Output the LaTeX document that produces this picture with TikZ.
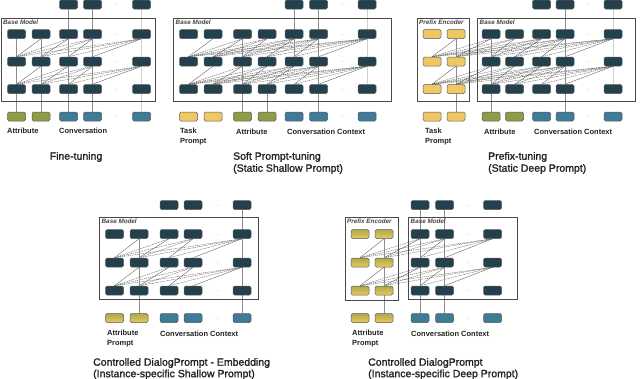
\documentclass[tikz,border=0pt]{standalone}
\usepackage{fontspec}
\setmainfont{Liberation Sans}
\newfontfamily\semib{Liberation Sans}[FakeBold=1.5]
\definecolor{dkcol}{HTML}{23404D}
\definecolor{ylcol}{HTML}{EEC865}
\definecolor{olcol}{HTML}{8E9C48}
\definecolor{blcol}{HTML}{3F7A96}
\definecolor{gtop}{HTML}{ABA948}
\definecolor{gbot}{HTML}{EBC863}
\definecolor{bord}{HTML}{5A5A5A}
\definecolor{frcol}{HTML}{4A4A4A}
\definecolor{lncol}{HTML}{555555}
\definecolor{vcol}{HTML}{8C8C8C}
\definecolor{fvcol}{HTML}{CFCFCF}
\definecolor{txt}{HTML}{222222}
\pgfdeclarelayer{bg}
\pgfsetlayers{bg,main}
\tikzset{
 cell/.style={draw=bord, line width=0.5pt, rounded corners=1.5pt, minimum width=18pt, minimum height=9pt, inner sep=0pt},
 dkc/.style={cell, fill=dkcol},
 ylc/.style={cell, fill=ylcol},
 olc/.style={cell, fill=olcol},
 blc/.style={cell, fill=blcol},
 grc/.style={cell, top color=gtop, bottom color=gbot},
 frame/.style={draw=frcol, line width=0.8pt, inner sep=0pt, anchor=north west},
 frl/.style={font=\fontsize{6.3}{7}\selectfont\bfseries\itshape, text=txt!85, anchor=north west, inner sep=0pt},
 attn/.style={draw=lncol, line width=0.35pt},
 vline/.style={draw=vcol, line width=0.7pt},
 fvline/.style={draw=fvcol, line width=0.6pt},
 dotsn/.style={font=\fontsize{4}{4}\selectfont, text=gray, inner sep=0pt},
 lbl/.style={font=\fontsize{7.5}{9}\selectfont\bfseries, text=txt, anchor=base west, inner sep=0pt},
 ttl/.style={font=\fontsize{10.5}{12}\selectfont\semib, text=txt, anchor=base west, inner sep=0pt},
}
% #1 panel, #2 lower row, #3 upper row, #4 last start column, #5 last column
\newcommand\mkattn[5]{%
 \foreach \i in {1,...,#4}{%
  \pgfmathtruncatemacro\ii{\i+1}%
  \foreach \j in {\ii,...,#5}{%
   \ifnum\j=\ii\relax
    \draw[attn] (#1-#2-\i.north) -- (#1-#3-\j.south);
   \else
    \draw[attn,dash pattern=on 1.2pt off 0.7pt] (#1-#2-\i.north) -- (#1-#3-\j.south);
   \fi
  }%
 }%
}
\begin{document}
\begin{tikzpicture}[x=1pt,y=-1pt]
\useasboundingbox (0,0) rectangle (640,378);
% ================= Panel a: Fine-tuning
\node[frame, minimum width=154pt, minimum height=83pt] (a-base) at (0.5,18) {};
\node[frl] (a-bl) at ([shift={(2.5pt,-1.5pt)}]a-base.north west) {Base Model};
\foreach \r/\y in {1/34,2/61.5,3/89}{
 \foreach \c/\x in {1/16.5,2/41,3/68.5,4/92.5,5/141.5}
  \node[dkc] (a-\r-\c) at (\x,\y) {};
 \node[dotsn] (a-\r-d) at (117,\y+1) {...};
}
\foreach \c/\x in {3/68.5,4/92.5,5/141.5} \node[dkc] (a-T-\c) at (\x,4.5) {};
\node[dotsn] (a-T-d) at (117,5.5) {...};
\foreach \c/\x/\s in {1/16.5/olc,2/41/olc,3/68.5/blc,4/92.5/blc,5/141.5/blc}
 \node[\s] (a-i-\c) at (\x,116.5) {};
\node[dotsn] (a-i-d) at (117,117.5) {...};
\begin{pgfonlayer}{bg}
 \mkattn{a}{2}{1}{4}{5}
 \mkattn{a}{3}{2}{4}{5}
 \draw[fvline] (a-T-5) -- (a-i-5);
 \draw[vline] (a-i-1) -- (a-1-1);
 \draw[vline] (a-i-2) -- (a-1-2);
 \draw[vline] (a-i-3) -- (a-T-3);
 \draw[vline] (a-i-4) -- (a-T-4);
\end{pgfonlayer}
\node[lbl] (a-l1) at (7,133.7) {Attribute};
\node[lbl] (a-l2) at (59,133.7) {Conversation};
\node[ttl, anchor=base] (a-t1) at (76,159.7) {Fine-tuning};
% ================= Panel b: Soft Prompt-tuning
\node[frame, minimum width=218pt, minimum height=83pt] (b-base) at (173,18) {};
\node[frl] (b-bl) at ([shift={(2.5pt,-1.5pt)}]b-base.north west) {Base Model};
\foreach \r/\y in {1/34,2/61.5,3/89}{
 \foreach \c/\x in {1/188.5,2/213,3/242.5,4/267,5/294,6/318.5,7/367}
  \node[dkc] (b-\r-\c) at (\x,\y) {};
 \node[dotsn] (b-\r-d) at (343,\y+1) {...};
}
\foreach \c/\x in {5/294,6/318.5,7/367} \node[dkc] (b-T-\c) at (\x,4.5) {};
\node[dotsn] (b-T-d) at (343,5.5) {...};
\foreach \c/\x/\s in {1/188.5/ylc,2/213/ylc,3/242.5/olc,4/267/olc,5/294/blc,6/318.5/blc,7/367/blc}
 \node[\s] (b-i-\c) at (\x,116.5) {};
\node[dotsn] (b-i-d) at (343,117.5) {...};
\begin{pgfonlayer}{bg}
 \mkattn{b}{2}{1}{6}{7}
 \mkattn{b}{3}{2}{6}{7}
 \draw[fvline] (b-T-7) -- (b-3-7);
 \draw[vline] (b-i-3) -- (b-1-3);
 \draw[vline] (b-i-4) -- (b-3-4);
 \draw[vline] (b-T-5) -- (b-2-5);
 \draw[vline] (b-i-6) -- (b-T-6);
\end{pgfonlayer}
\node[lbl] (b-l1) at (180,133.7) {Task};
\node[lbl] (b-l1b) at (180,143.7) {Prompt};
\node[lbl] (b-l2) at (236,134.2) {Attribute};
\node[lbl] (b-l3) at (287,134.2) {Conversation Context};
\node[ttl] (b-t1) at (233,159.7) {Soft Prompt-tuning};
\node[ttl] (b-t2) at (233,171.7) {(Static Shallow Prompt)};
% ================= Panel c: Prefix-tuning
\node[frame, minimum width=52pt, minimum height=83pt] (c-pre) at (417,18) {};
\node[frl] (c-pl) at ([shift={(2pt,-1.5pt)}]c-pre.north west) {Prefix Encoder};
\node[frame, minimum width=158pt, minimum height=83pt] (c-base) at (477,18) {};
\node[frl] (c-bl) at ([shift={(2.5pt,-1.5pt)}]c-base.north west) {Base Model};
\foreach \r/\y in {1/34,2/61.5,3/89}{
 \foreach \c/\x/\s in {1/432/ylc,2/456/ylc,3/491/dkc,4/514.5/dkc,5/541.5/dkc,6/565/dkc,7/613/dkc}
  \node[\s] (c-\r-\c) at (\x,\y) {};
 \node[dotsn] (c-\r-d) at (589,\y+1) {...};
}
\foreach \c/\x in {5/541.5,6/565,7/613} \node[dkc] (c-T-\c) at (\x,4.5) {};
\node[dotsn] (c-T-d) at (589,5.5) {...};
\foreach \c/\x/\s in {1/432/ylc,2/456/ylc,3/491/olc,4/514.5/olc,5/541.5/blc,6/565/blc,7/613/blc}
 \node[\s] (c-i-\c) at (\x,116.5) {};
\node[dotsn] (c-i-d) at (589,117.5) {...};
\begin{pgfonlayer}{bg}
 \mkattn{c}{2}{1}{6}{7}
 \mkattn{c}{3}{2}{6}{7}
 \draw[fvline] (c-T-7) -- (c-3-7);
 \draw[vline] (c-i-2) -- (c-1-2);
 \draw[vline] (c-i-3) -- (c-1-3);
 \draw[vline] (c-i-6) -- (c-T-6);
\end{pgfonlayer}
\node[lbl] (c-l1) at (425,133.7) {Task};
\node[lbl] (c-l1b) at (425,143.7) {Prompt};
\node[lbl] (c-l2) at (484,134.2) {Attribute};
\node[lbl] (c-l3) at (534,134.2) {Conversation Context};
\node[ttl] (c-t1) at (488,159.7) {Prefix-tuning};
\node[ttl] (c-t2) at (488,171.7) {(Static Deep Prompt)};
% ================= Panel d: Controlled DialogPrompt - Embedding
\node[frame, minimum width=159pt, minimum height=82pt] (d-base) at (99,217) {};
\node[frl] (d-bl) at ([shift={(2.5pt,-1.5pt)}]d-base.north west) {Base Model};
\foreach \r/\y in {1/234,2/262.5,3/290.5}{
 \foreach \c/\x in {1/114.5,2/139,3/169,4/193,5/242}
  \node[dkc] (d-\r-\c) at (\x,\y) {};
 \node[dotsn] (d-\r-d) at (217,\y+1) {...};
}
\foreach \c/\x in {3/169,4/193,5/242} \node[dkc] (d-T-\c) at (\x,205) {};
\node[dotsn] (d-T-d) at (217,206) {...};
\foreach \c/\x/\s in {1/114.5/grc,2/139/grc,3/169/blc,4/193/blc,5/242/blc}
 \node[\s] (d-i-\c) at (\x,318) {};
\node[dotsn] (d-i-d) at (217,319) {...};
\begin{pgfonlayer}{bg}
 \mkattn{d}{2}{1}{4}{5}
 \mkattn{d}{3}{2}{4}{5}
 \draw[vline] (d-i-2) -- (d-1-2);
 \draw[vline] (d-i-5) -- (d-T-5);
\end{pgfonlayer}
\node[lbl] (d-l1) at (107,335.7) {Attribute};
\node[lbl] (d-l1b) at (107,345.7) {Prompt};
\node[lbl] (d-l2) at (160,336.2) {Conversation Context};
\node[ttl] (d-t1) at (93,365.7) {Controlled DialogPrompt - Embedding};
\node[ttl] (d-t2) at (93,377.2) {(Instance-specific Shallow Prompt)};
% ================= Panel e: Controlled DialogPrompt
\node[frame, minimum width=53pt, minimum height=83pt] (e-pre) at (345,217) {};
\node[frl] (e-pl) at ([shift={(2pt,-1.5pt)}]e-pre.north west) {Prefix Encoder};
\node[frame, minimum width=109pt, minimum height=82pt] (e-base) at (408,217) {};
\node[frl] (e-bl) at ([shift={(2.5pt,-1.5pt)}]e-base.north west) {Base Model};
\foreach \r/\y in {1/234,2/262.5,3/290.5}{
 \foreach \c/\x/\s in {1/360/grc,2/384/grc,3/420/dkc,4/444.5/dkc,5/492.5/dkc}
  \node[\s] (e-\r-\c) at (\x,\y) {};
 \node[dotsn] (e-\r-d) at (469,\y+1) {...};
}
\foreach \c/\x in {3/420,4/444.5,5/492.5} \node[dkc] (e-T-\c) at (\x,205) {};
\node[dotsn] (e-T-d) at (469,206) {...};
\foreach \c/\x/\s in {1/360/grc,2/384/grc,3/420/blc,4/444.5/blc,5/492.5/blc}
 \node[\s] (e-i-\c) at (\x,318) {};
\node[dotsn] (e-i-d) at (469,319) {...};
\begin{pgfonlayer}{bg}
 \mkattn{e}{2}{1}{4}{5}
 \mkattn{e}{3}{2}{4}{5}
 \draw[vline] (e-i-2) -- (e-1-2);
 \draw[vline] (e-i-3) -- (e-T-3);
 \draw[vline] (e-i-4) -- (e-T-4);
\end{pgfonlayer}
\node[lbl] (e-l1) at (352,335.7) {Attribute};
\node[lbl] (e-l1b) at (352,345.7) {Prompt};
\node[lbl] (e-l2) at (411,336.2) {Conversation Context};
\node[ttl] (e-t1) at (368,365.7) {Controlled DialogPrompt};
\node[ttl] (e-t2) at (368,377.2) {(Instance-specific Deep Prompt)};
\end{tikzpicture}
\end{document}
